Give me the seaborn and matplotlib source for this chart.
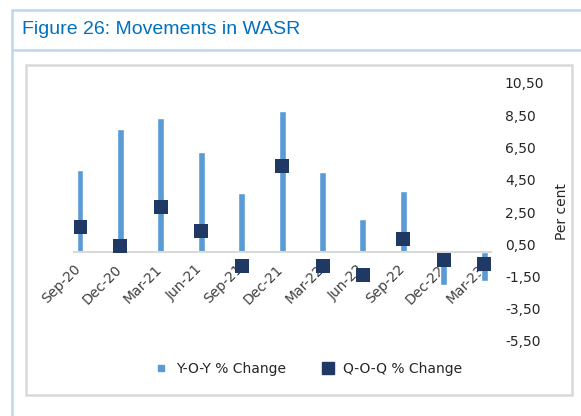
import numpy as np
import matplotlib
matplotlib.use("Agg")
import matplotlib.pyplot as plt
from matplotlib.lines import Line2D
from matplotlib.patches import Rectangle
import seaborn as sns

# data
quarters = ["Sep-20", "Dec-20", "Mar-21", "Jun-21", "Sep-21", "Dec-21",
            "Mar-22", "Jun-22", "Sep-22", "Dec-22", "Mar-23"]
yoy = [5.1, 7.65, 8.3, 6.2, 3.65, 8.75, 4.95, 2.05, 3.8, -2.0, -1.8]
qoq = [1.55, 0.4, 2.8, 1.35, -0.85, 5.35, -0.85, -1.4, 0.85, -0.5, -0.7]
yticks = [10.5, 8.5, 6.5, 4.5, 2.5, 0.5, -1.5, -3.5, -5.5]
ytick_labels = ["10,50", "8,50", "6,50", "4,50", "2,50", "0,50", "-1,50", "-3,50", "-5,50"]

light_blue = "#5B9BD5"
navy = "#1F3864"
frame_blue = "#BDD7EE"
grey = "#D9D9D9"

sns.set_style("white")
plt.rcParams["font.family"] = ["DejaVu Sans"]

W, H = 581, 416
fig = plt.figure(figsize=(W / 100, H / 100), dpi=100)

def fx(px):
    return px / W

def fy(py):
    return 1 - py / H

# outer blue frame (runs off the right and bottom edges) and title divider
fig.add_artist(Rectangle((fx(12), fy(440)), fx(640 - 12), (440 - 10) / H,
                         fill=False, edgecolor=frame_blue, lw=1.8))
fig.add_artist(Line2D([fx(12), 1.1], [fy(50), fy(50)], color=frame_blue, lw=1.8))
# inner grey chart box
fig.add_artist(Rectangle((fx(26), fy(395)), fx(572 - 26), (395 - 65) / H,
                         fill=False, edgecolor=grey, lw=1.8))

fig.text(fx(22), fy(30), "Figure 26: Movements in WASR", color="#0070C0",
         fontsize=14, va="center", ha="left", family=["Liberation Sans", "DejaVu Sans"])

ax = fig.add_axes([fx(74), fy(341), fx(491 - 74), (341 - 83) / H])
pos = np.arange(len(quarters))
sns.barplot(x=quarters, y=yoy, width=0.17, color=light_blue, saturation=1, ax=ax)
sns.scatterplot(x=pos, y=qoq, marker="s", s=110, color=navy, linewidth=0, ax=ax, zorder=3)

# spine position first: it resets the ticks
for s in ["top", "left", "right"]:
    ax.spines[s].set_visible(False)
ax.spines["bottom"].set_position(("data", 0))
ax.spines["bottom"].set_color(grey)
ax.spines["bottom"].set_linewidth(1.5)
ax.set_xlabel("")

ax.set_ylim(-5.5, 10.5)
ax.set_xlim(-0.15, 10.17)
ax.set_yticks(yticks)
ax.set_yticklabels(ytick_labels)
ax.yaxis.tick_right()
ax.yaxis.set_label_position("right")
ax.set_ylabel("Per cent", fontsize=10, color="#262626", labelpad=8)
ax.tick_params(axis="y", length=0, pad=10, labelsize=10, labelcolor="#262626")

ax.set_xticks(pos - 0.15)
ax.tick_params(axis="x", length=4, width=1.5, color=grey, pad=3,
               labelsize=10, labelcolor="#404040")
ax.set_xticklabels(quarters, rotation=45, ha="right", va="top", rotation_mode="anchor")

handles = [
    Line2D([], [], marker="s", linestyle="none", markersize=5, color=light_blue),
    Line2D([], [], marker="s", linestyle="none", markersize=9, color=navy),
]
fig.legend(handles, ["Y-O-Y % Change", "Q-O-Q % Change"], loc="center",
           bbox_to_anchor=(fx(305), fy(369)), ncol=2, frameon=False,
           fontsize=10, handletextpad=0.1, columnspacing=2.0, labelcolor="#262626")

fig.savefig("out.png", dpi=100)
